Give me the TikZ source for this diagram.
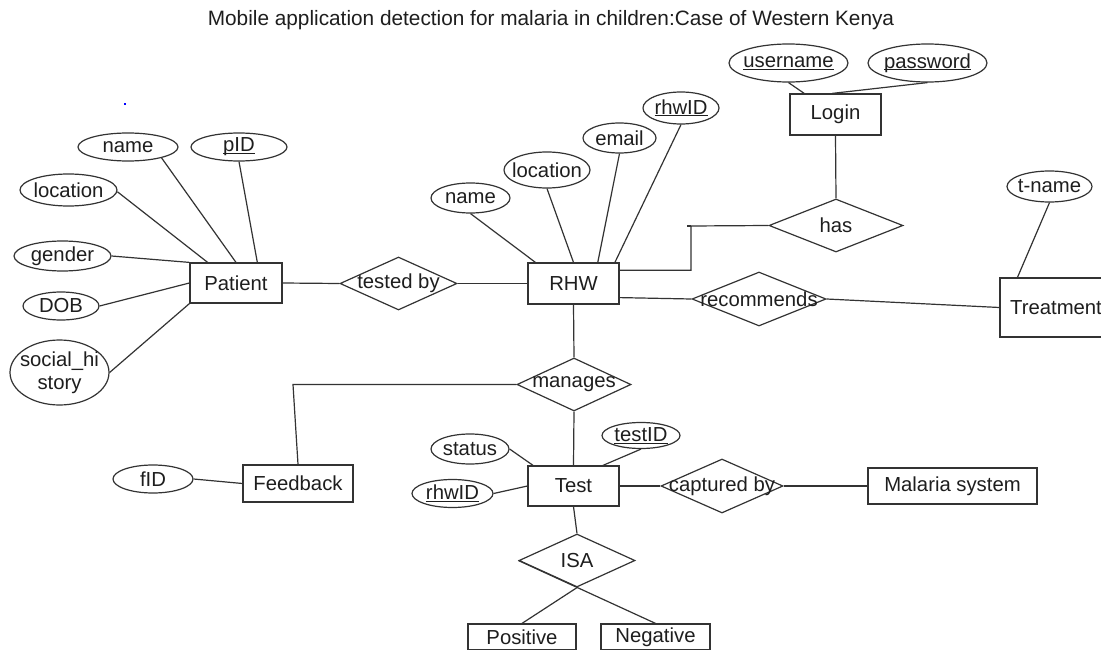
\documentclass[tikz,border=0pt]{standalone}
\usepackage{fontspec}
\setmainfont{Liberation Sans}
\usetikzlibrary{shapes.geometric}
\definecolor{inkline}{HTML}{333333}
\definecolor{inktext}{HTML}{1E1E1E}
% underlined key attribute: rule set just under the baseline
\newcommand\keyattr[1]{\setbox0\hbox{#1}\rlap{\rule[-2.2pt]{\wd0}{1pt}}\box0}
\begin{document}
\begin{tikzpicture}[x=1pt,y=-1pt,
  every node/.style={text=inktext,font=\fontsize{20.3}{23}\selectfont},
  conn/.style={draw=inkline,line width=1.2pt},
  entity/.style 2 args={rectangle,draw=inkline,line width=1.2pt,inner sep=0pt,
    minimum width=#1pt,minimum height=#2pt},
  attrib/.style 2 args={ellipse,draw=inkline,line width=1.2pt,inner sep=0pt,
    minimum width=#1pt,minimum height=#2pt},
  relation/.style 2 args={diamond,draw=inkline,line width=1.2pt,inner sep=0pt,
    minimum width=#1pt,minimum height=#2pt},
  inlabel/.style={label={[text=inktext,font=\fontsize{20.3}{23}\selectfont,align=center]center:#1}}
]
\useasboundingbox (0,0) rectangle (1101,650);
\fill[white] (0,0) rectangle (1101,650);

\node[font=\fontsize{20.8}{24}\selectfont] (title) at (551,20) {Mobile application detection for malaria in children:Case of Western Kenya};
\fill[blue] (124,103) rectangle (126,105);

% entities
\node[entity={92}{40}]  (patient)  at (236,283)     {Patient};
\node[entity={91}{41}]  (rhw)      at (573.5,283.5) {RHW};
\node[entity={91}{41}]  (login)    at (835.5,114.5) {Login};
\node[entity={112}{59}] (treat)    at (1056,307.5)  {Treatment};
\node[entity={110}{37}] (feedback) at (298,483.5)   {Feedback};
\node[entity={91}{40}]  (test)     at (573.5,486)   {Test};
\node[entity={169}{36}] (malaria)  at (952.5,486)   {Malaria system};
\node[entity={108}{26}] (positive) at (522,637)     {Positive};
\node[entity={109}{26}] (negative) at (655.5,637)   {Negative};

% relationships
\node[relation={117}{53},inlabel={tested by}]   (tested)     at (398.5,283.5) {};
\node[relation={134}{53},inlabel={has}]         (has)        at (836,225.5)   {};
\node[relation={134}{54},inlabel={recommends}]  (recommends) at (759,299)     {};
\node[relation={114}{53},inlabel={manages}]     (manages)    at (574,384.5)   {};
\node[relation={122}{54},inlabel={captured by}] (captured)   at (722,486)     {};
\node[relation={116}{53},inlabel={ISA}]         (isa)        at (577,560.5)   {};

% attributes
\node[attrib={100}{28},inlabel={name}]     (pname)   at (128,147)     {};
\node[attrib={96}{28},inlabel={\keyattr{pID}}] (pid) at (239,147)     {};
\node[attrib={97}{32},inlabel={location}]  (ploc)    at (68.5,190)    {};
\node[attrib={97}{30},inlabel={gender}]    (pgender) at (62.5,256)    {};
\node[attrib={76}{28},inlabel={DOB}]       (pdob)    at (61,306)      {};
\node[attrib={99}{65},inlabel={social\_hi\\story}] (psocial) at (59.5,372.5) {};

\node[attrib={79}{30},inlabel={name}]      (rname)   at (470.5,198)   {};
\node[attrib={86}{36},inlabel={location}]  (rloc)    at (547,170)     {};
\node[attrib={73}{30},inlabel={email}]     (remail)  at (619.5,138)   {};
\node[attrib={76}{32},inlabel={\keyattr{rhwID}}] (rid) at (681,108)   {};

\node[attrib={119}{38},inlabel={\keyattr{username}}] (uname) at (788.5,63) {};
\node[attrib={119}{38},inlabel={\keyattr{password}}] (pwd)   at (927.5,63) {};
\node[attrib={85}{31},inlabel={t-name}]    (tname)   at (1049.5,186.5) {};

\node[attrib={80}{28},inlabel={fID}]       (fid)     at (153,479)     {};
\node[attrib={78}{30},inlabel={status}]    (status)  at (470,449)     {};
\node[attrib={78}{26},inlabel={\keyattr{testID}}] (testid) at (641,435.5) {};
\node[attrib={81}{28},inlabel={\keyattr{rhwID}}]  (trhwid) at (452.5,493.5) {};

% bends of the routed connectors
\coordinate (hk)    at (691,226);
\coordinate (hstub) at (687,226);
\coordinate (fk)    at (293,384.5);

% attribute links
\draw[conn] (pname.-18) -- (patient.north);
\draw[conn] (pid.south) -- (patient.44);
\draw[conn] (ploc.-2) -- (patient.144.5);
\draw[conn] (pgender.east) -- (patient.north west);
\draw[conn] (pdob.east) -- (patient.west);
\draw[conn] (psocial.east) -- (patient.south west);

\draw[conn] (rname.south) -- (rhw.151);
\draw[conn] (rloc.south) -- (rhw.north);
\draw[conn] (remail.south) -- (rhw.41);
\draw[conn] (rid.south) -- (rhw.27.4);

\draw[conn] (uname.south) -- (login.146);
\draw[conn] (pwd.south) -- (login.99.7);
\draw[conn] (tname.south) -- (treat.142.9);

\draw[conn] (fid.east) -- (feedback.west);
\draw[conn] (status.east) -- (test.153.7);
\draw[conn] (testid.south) -- (test.35);
\draw[conn] (trhwid.east) -- (test.west);

% relationship links
\draw[conn] (patient.east) -- (tested.west);
\draw[conn] (tested.east) -- (rhw.west);
\draw[conn] (rhw.16.5) -| (hk) -- (has.west);
\draw[conn] (hstub) -- (hk);
\draw[conn] (login.south) -- (has.north);
\draw[conn] (rhw.-17.7) -- (recommends.west);
\draw[conn] (recommends.east) -- (treat.west);
\draw[conn] (rhw.south) -- (manages.north);
\draw[conn] (manages.south) -- (test.north);
\draw[conn] (manages.west) -- (fk) -- (feedback.north);
\draw[conn] (test.east) -- (captured.west);
\draw[conn] (captured.east) -- (malaria.west);
\draw[conn] (test.south) -- (isa.north);
\draw[conn] (isa.south) -- (positive.north);
\draw[conn] (isa.west) -- (negative.north);
\end{tikzpicture}
\end{document}
